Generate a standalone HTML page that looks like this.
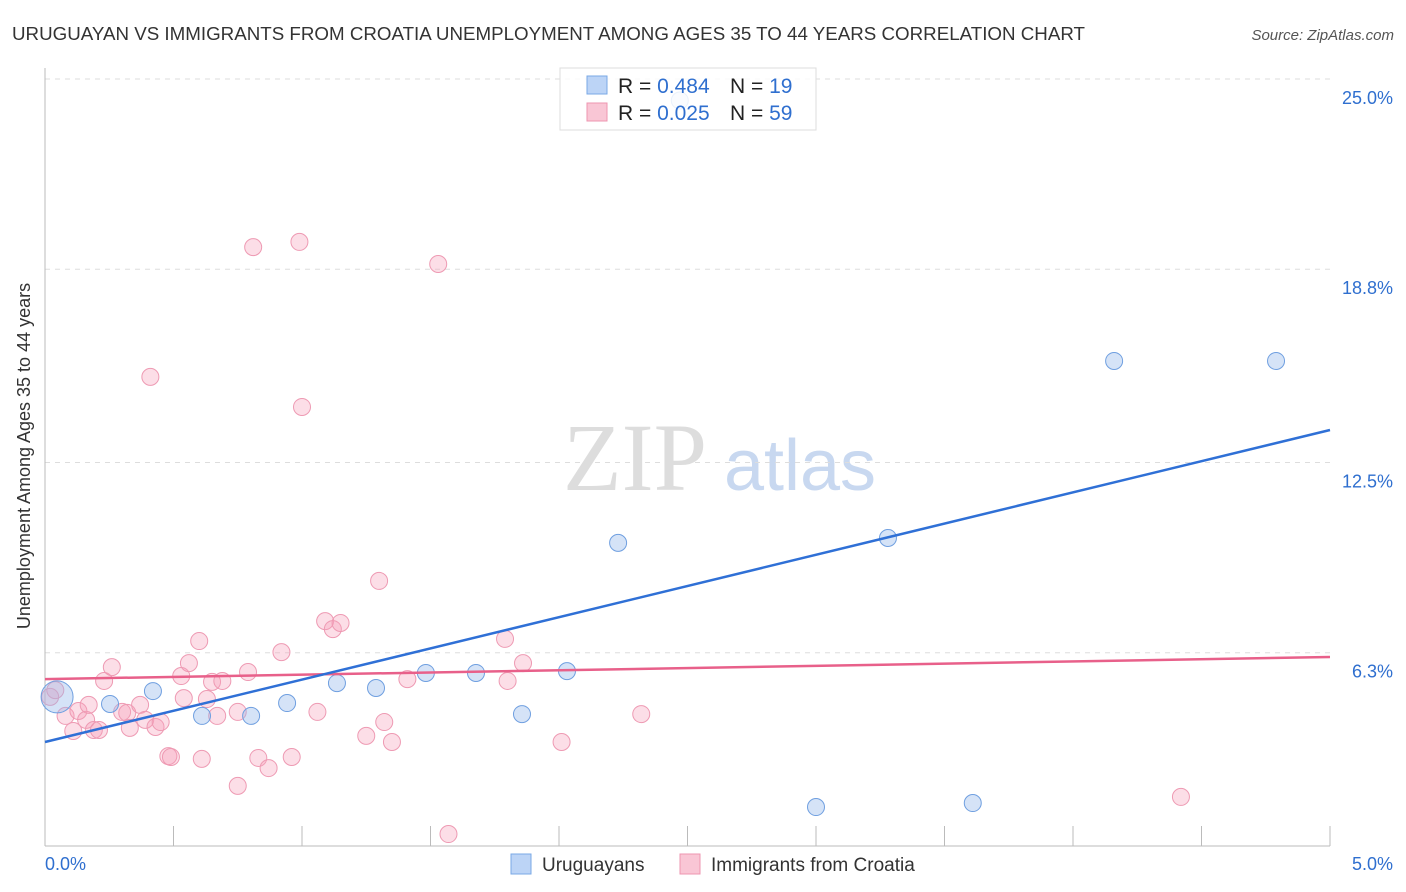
<!DOCTYPE html>
<html><head><meta charset="utf-8">
<style>
body{margin:0;background:#fff;font-family:"Liberation Sans",sans-serif;}
#wrap{position:relative;width:1406px;height:892px;overflow:hidden;}
</style></head>
<body>
<div id="wrap">
<svg id="svg" width="1406" height="892" xmlns="http://www.w3.org/2000/svg">
<text x="12" y="40" font-size="18" fill="#333" textLength="1073" lengthAdjust="spacingAndGlyphs">URUGUAYAN VS IMMIGRANTS FROM CROATIA UNEMPLOYMENT AMONG AGES 35 TO 44 YEARS CORRELATION CHART</text>
<text x="1394" y="40" font-size="15" fill="#555" font-style="italic" text-anchor="end">Source: ZipAtlas.com</text>
<text x="30" y="456" font-size="18" fill="#333" text-anchor="middle" transform="rotate(-90 30 456)">Unemployment Among Ages 35 to 44 years</text>
<g>
<text x="635" y="490" font-size="96" fill="#ddd" font-family="Liberation Serif,serif" text-anchor="middle">ZIP</text>
<text x="800" y="490" font-size="72" fill="#c8d8f0" text-anchor="middle">atlas</text>
</g>
<g id="grid"></g>
<g id="axes"></g>
<g id="pts"></g>
<g id="lines"></g>
<g>
<rect x="560" y="68" width="256" height="62" fill="rgba(255,255,255,0.85)" stroke="#ddd"/>
<rect x="587" y="76" width="20" height="18" fill="#bcd4f6" stroke="#7aa8e6"/>
<rect x="587" y="103" width="20" height="18" fill="#f9c6d5" stroke="#ee95b0"/>
<text x="618" y="93" font-size="21" fill="#222">R = <tspan fill="#2f6fcf">0.484</tspan></text>
<text x="730" y="93" font-size="21" fill="#222">N = <tspan fill="#2f6fcf"> 19</tspan></text>
<text x="618" y="120" font-size="21" fill="#222">R = <tspan fill="#2f6fcf">0.025</tspan></text>
<text x="730" y="120" font-size="21" fill="#222">N = <tspan fill="#2f6fcf">59</tspan></text>
</g>
<g>
<rect x="511" y="854" width="20" height="20" fill="#bcd4f6" stroke="#7aa8e6"/>
<text x="542" y="871" font-size="19" fill="#333">Uruguayans</text>
<rect x="680" y="854" width="20" height="20" fill="#f9c6d5" stroke="#ee95b0"/>
<text x="711" y="871" font-size="19" fill="#333">Immigrants from Croatia</text>
</g>
</svg>
</div>
<script>
const yTicks=[25.0,18.8,12.5,6.3];
const yTickLabels=["25.0%","18.8%","12.5%","6.3%"];
const xTickCount=10;
const blueX=[0.047,0.253,0.420,0.611,0.802,0.942,1.136,1.288,1.482,1.677,1.856,2.031,2.23,3.00,3.28,3.61,4.16,4.79,2.47];
const blueY=[4.86,4.63,5.05,4.24,4.24,4.66,5.31,5.15,5.64,5.64,4.30,5.70,9.88,1.27,10.04,1.40,15.81,15.81,24.3];
const pinkX=[0.02,0.04,0.08,0.11,0.13,0.16,0.17,0.19,0.21,0.23,0.26,0.30,0.32,0.33,0.37,0.39,0.41,0.43,0.45,0.48,0.49,0.53,0.54,0.56,0.60,0.61,0.63,0.65,0.67,0.69,0.75,0.75,0.79,0.81,0.83,0.87,0.92,0.96,0.99,1.00,1.06,1.09,1.12,1.15,1.25,1.30,1.32,1.35,1.41,1.53,1.57,1.79,1.80,1.86,2.01,2.32,4.42];
const pinkY=[4.86,5.08,4.24,3.75,4.40,4.11,4.60,3.78,3.78,5.38,5.83,4.37,4.34,3.85,4.60,4.11,15.29,3.88,4.04,2.93,2.90,5.54,4.82,5.96,6.68,2.84,4.79,5.35,4.24,5.38,4.37,1.96,5.67,19.52,2.87,2.54,6.32,2.90,19.69,14.31,4.37,7.33,7.07,7.27,3.59,8.64,4.04,3.39,5.44,18.97,0.39,6.75,5.38,5.96,3.39,4.30,1.60];
const blueTrend=[3.39,13.56];
const pinkTrend=[5.44,6.16];
const NS="http://www.w3.org/2000/svg";
const X=v=>45+v/5*1285;
const Y=v=>846-v*30.68;
function mk(parent,tag,attrs){const e=document.createElementNS(NS,tag);for(const k in attrs)e.setAttribute(k,attrs[k]);document.getElementById(parent).appendChild(e);return e;}
let e=mk('grid','line',{x1:45,x2:1330,y1:79,y2:79,stroke:'#ddd','stroke-dasharray':'5,5'});


yTicks.forEach((t,i)=>{
  let g=mk('grid','line',{x1:45,x2:1330,y1:Y(t),y2:Y(t),stroke:'#ddd','stroke-dasharray':'5,5'});
  
  
  let l=mk('axes','text',{x:1393,y:Y(t)+25,'font-size':18,fill:'#2f6fcf','text-anchor':'end'});
  l.textContent=yTickLabels[i];
  
  
});
e=mk('axes','line',{x1:45,x2:45,y1:68,y2:846,stroke:'#bbb'});


e=mk('axes','line',{x1:45,x2:1330,y1:846,y2:846,stroke:'#bbb'});


for(let i=1;i<=xTickCount;i++){
  let t=mk('axes','line',{x1:X(i*0.5),x2:X(i*0.5),y1:826,y2:846,stroke:'#bbb'});
  
  
}
e=mk('axes','text',{x:45,y:870,'font-size':18,fill:'#2f6fcf'});e.textContent='0.0%';


e=mk('axes','text',{x:1393,y:870,'font-size':18,fill:'#2f6fcf','text-anchor':'end'});e.textContent='5.0%';


pinkX.forEach((x,i)=>{
  let c=mk('pts','circle',{cx:X(x),cy:Y(pinkY[i]),r:8.5,fill:'rgba(245,160,185,0.35)',stroke:'#ee9ab3','stroke-width':1});
  
  
});
blueX.forEach((x,i)=>{
  let c=mk('pts','circle',{cx:X(x),cy:Y(blueY[i]),r:i==0?16:8.5,fill:'rgba(150,185,235,0.4)',stroke:'#6f9fe0','stroke-width':1});
  
  
});
e=mk('lines','line',{x1:X(0),x2:X(5),y1:Y(pinkTrend[0]),y2:Y(pinkTrend[1]),stroke:'#e8608a','stroke-width':2.5});


e=mk('lines','line',{x1:X(0),x2:X(5),y1:Y(blueTrend[0]),y2:Y(blueTrend[1]),stroke:'#2f70d6','stroke-width':2.5});


</script>
</body></html>
